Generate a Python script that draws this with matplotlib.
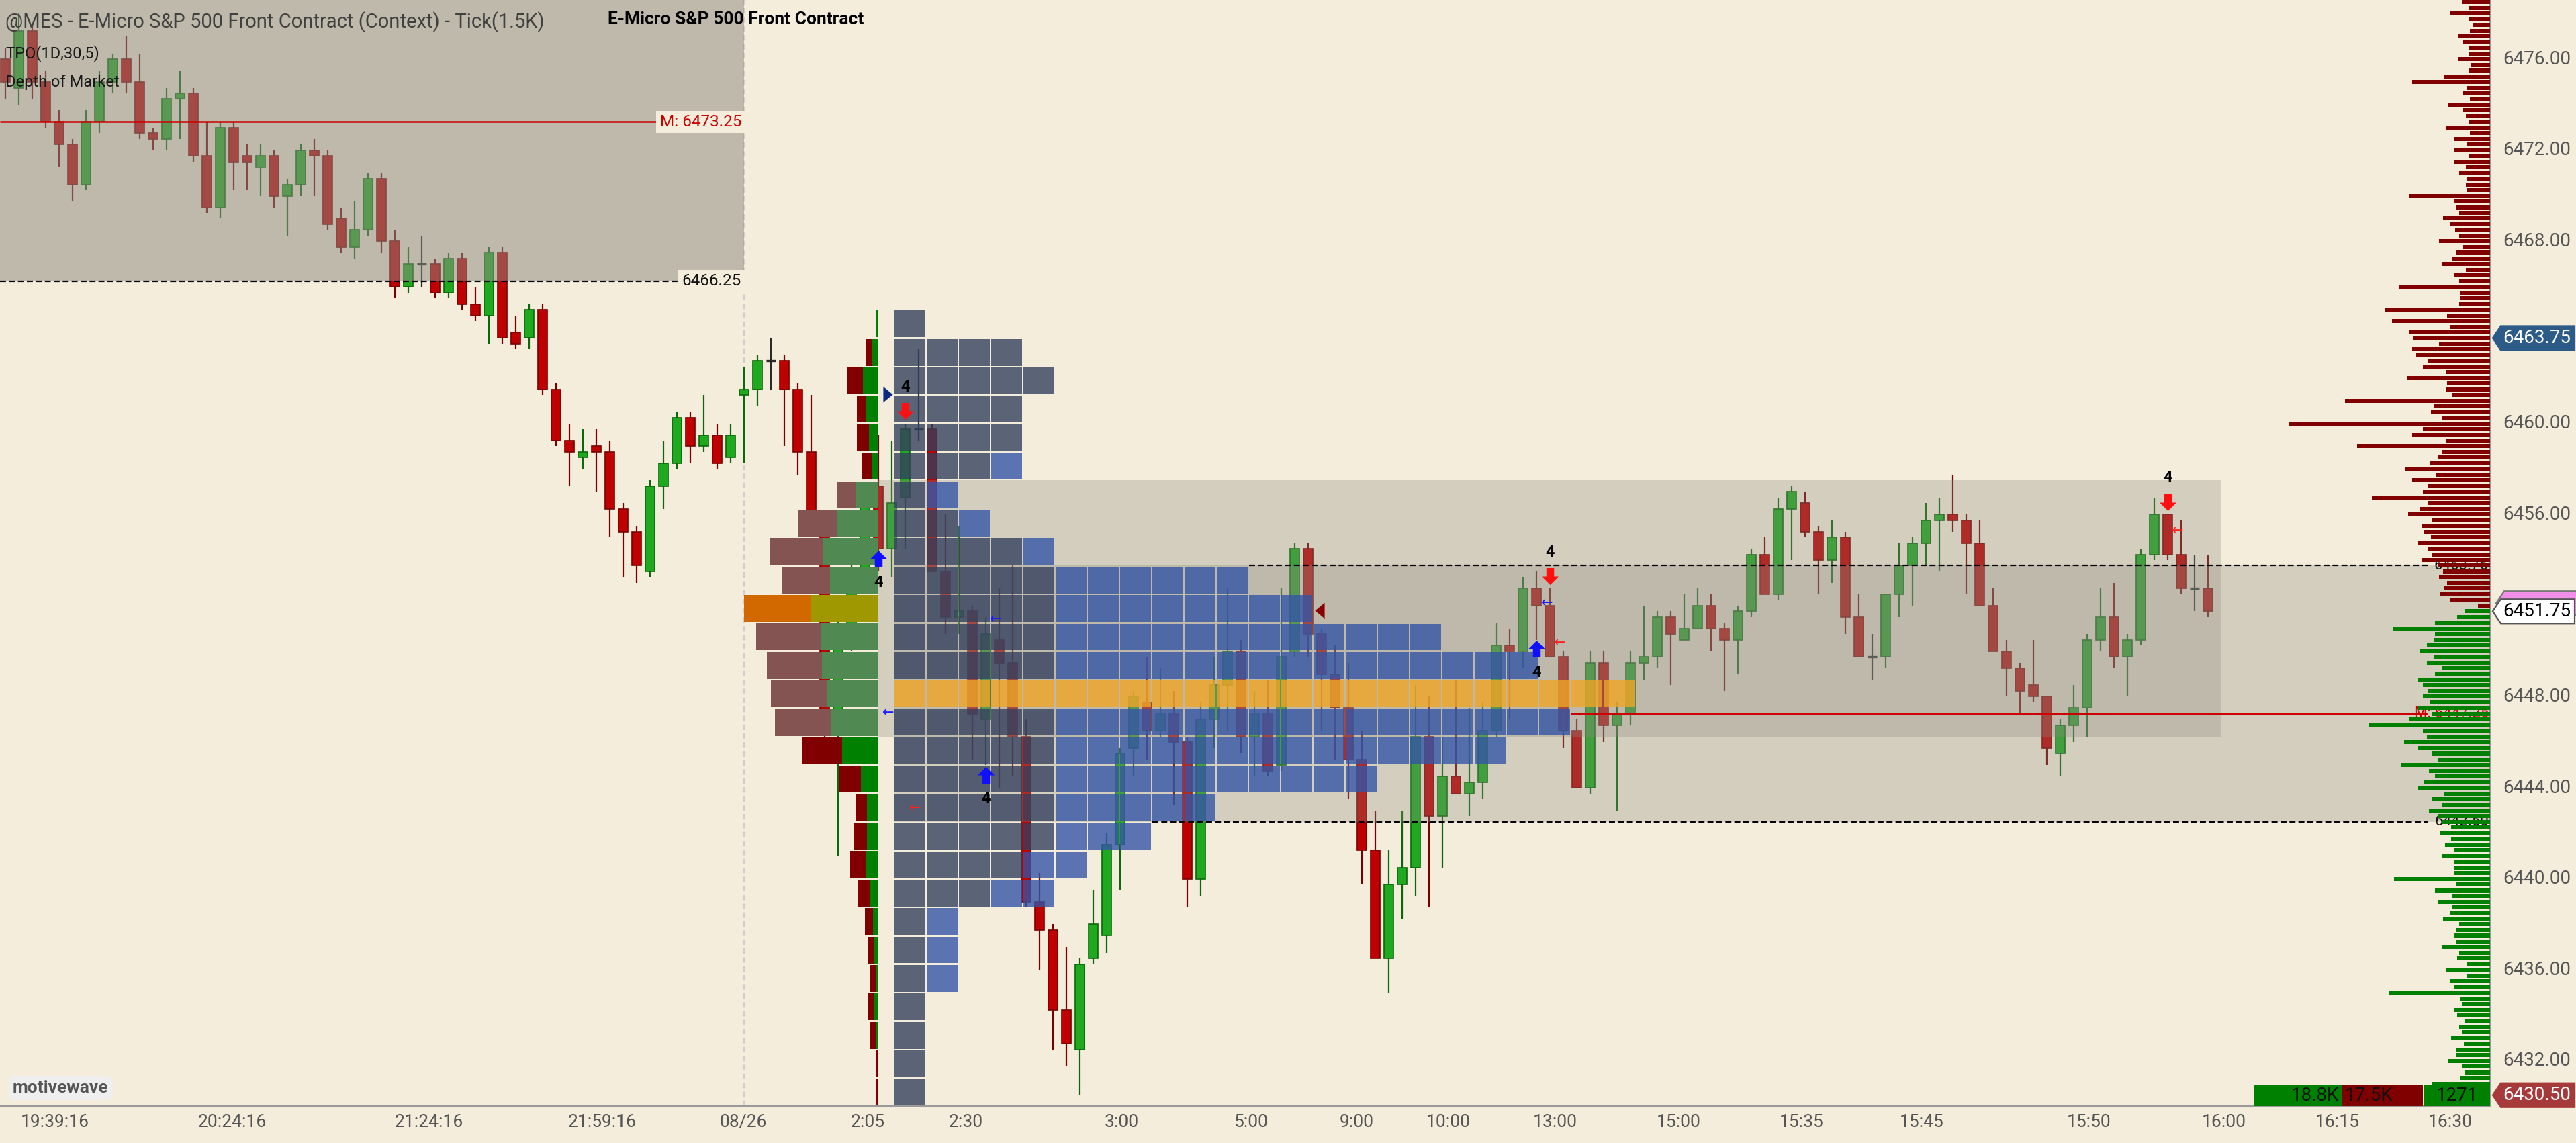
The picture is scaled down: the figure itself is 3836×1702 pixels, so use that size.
import numpy as np
import matplotlib
matplotlib.use("Agg")
import matplotlib.pyplot as plt
from matplotlib.patches import Rectangle, Polygon
from matplotlib.path import Path
from matplotlib.transforms import blended_transform_factory

# ---------------- data ----------------
# 1.5K tick candles
opens = [6476.0, 6474.75, 6477.25, 6475.0, 6473.25, 6472.25, 6470.5, 6473.25, 6475.0, 6476.0,
         6475.0, 6472.75, 6472.5, 6474.25, 6474.5, 6471.75, 6469.5, 6473.0, 6471.75, 6471.25,
         6471.75, 6470.0, 6470.5, 6472.0, 6471.75, 6469.0, 6467.75, 6468.5, 6470.75, 6468.0,
         6466.0, 6467.0, 6467.0, 6465.75, 6467.25, 6465.25, 6464.75, 6467.5, 6464.0, 6463.75,
         6465.0, 6461.5, 6459.25, 6458.5, 6459.0, 6458.75, 6456.25, 6455.25, 6453.5, 6457.25,
         6458.25, 6460.25, 6459.0, 6459.5, 6458.5, 6461.25, 6461.5, 6462.75, 6462.75, 6461.5,
         6458.75, 6455.5, 6446.5, 6451.0, 6453.5, 6457.25, 6454.5, 6456.75, 6459.75, 6459.75,
         6453.5, 6451.5, 6451.75, 6447.0, 6450.5, 6449.5, 6446.25, 6439.0, 6437.75, 6434.25,
         6432.5, 6436.5, 6437.5, 6441.5, 6445.75, 6447.75, 6446.5, 6447.25, 6446.0, 6440.0,
         6447.0, 6448.5, 6450.0, 6446.25, 6447.25, 6445.0, 6450.0, 6454.5, 6450.75, 6449.0,
         6447.5, 6445.25, 6441.25, 6436.5, 6439.75, 6440.5, 6446.25, 6442.75, 6444.5, 6443.75,
         6444.25, 6446.5, 6450.25, 6450.0, 6452.75, 6452.0, 6449.75, 6446.5, 6444.0, 6449.5,
         6446.75, 6447.25, 6449.5, 6449.75, 6451.5, 6450.5, 6451.0, 6452.0, 6451.0, 6450.5,
         6451.75, 6454.25, 6452.5, 6456.25, 6456.5, 6455.25, 6454.0, 6455.0, 6451.5, 6449.75,
         6449.75, 6452.5, 6453.75, 6454.75, 6455.75, 6456.0, 6455.75, 6454.75, 6452.0, 6450.0,
         6449.25, 6448.5, 6448.0, 6445.5, 6446.75, 6447.5, 6450.5, 6451.5, 6449.75, 6450.5,
         6454.25, 6456.0, 6454.25, 6452.75, 6452.75]
highs = [6476.5, 6478.0, 6477.5, 6475.5, 6473.75, 6472.5, 6473.75, 6475.5, 6476.25, 6477.0,
         6476.25, 6473.0, 6474.75, 6475.5, 6474.75, 6473.25, 6473.25, 6473.25, 6472.25, 6472.25,
         6472.0, 6470.75, 6472.25, 6472.5, 6472.0, 6469.5, 6469.75, 6471.0, 6471.0, 6468.5,
         6467.75, 6468.25, 6467.25, 6467.5, 6467.5, 6466.0, 6467.75, 6467.75, 6464.75, 6465.25,
         6465.25, 6461.75, 6460.0, 6459.75, 6459.75, 6459.25, 6456.5, 6455.5, 6457.5, 6459.25,
         6460.5, 6460.5, 6461.25, 6460.0, 6460.0, 6462.5, 6463.0, 6463.75, 6463.0, 6461.75,
         6461.25, 6456.0, 6451.5, 6454.0, 6457.0, 6459.5, 6459.25, 6460.0, 6463.25, 6460.0,
         6456.0, 6455.5, 6452.0, 6451.5, 6452.75, 6453.75, 6447.0, 6440.25, 6438.0, 6437.0,
         6436.5, 6439.5, 6442.0, 6445.75, 6448.25, 6449.75, 6449.25, 6448.25, 6446.25, 6447.75,
         6449.75, 6452.75, 6450.5, 6448.25, 6448.75, 6452.75, 6454.75, 6454.75, 6451.0, 6450.25,
         6449.5, 6446.5, 6443.0, 6441.25, 6443.0, 6448.5, 6448.0, 6446.25, 6448.75, 6447.5,
         6447.75, 6451.25, 6451.0, 6453.25, 6453.5, 6452.75, 6450.0, 6447.0, 6450.0, 6450.0,
         6447.75, 6450.0, 6452.0, 6451.75, 6451.75, 6452.5, 6452.75, 6452.5, 6451.25, 6452.0,
         6454.5, 6455.0, 6456.75, 6457.25, 6457.0, 6455.5, 6455.75, 6455.25, 6452.5, 6450.75,
         6452.5, 6454.75, 6455.0, 6456.5, 6456.75, 6457.75, 6456.0, 6455.75, 6452.75, 6450.5,
         6449.5, 6450.5, 6448.0, 6447.0, 6448.5, 6450.75, 6452.75, 6453.0, 6450.75, 6454.5,
         6456.75, 6456.0, 6455.75, 6454.25, 6454.25]
lows = [6474.25, 6474.0, 6474.25, 6473.0, 6471.25, 6469.75, 6470.25, 6472.75, 6474.5, 6474.5,
        6472.5, 6472.0, 6472.0, 6472.5, 6471.5, 6469.25, 6469.0, 6470.25, 6470.25, 6470.0,
        6469.5, 6468.25, 6470.0, 6470.0, 6468.5, 6467.5, 6467.25, 6468.25, 6467.5, 6465.5,
        6465.75, 6466.0, 6465.5, 6465.5, 6465.0, 6464.5, 6463.5, 6463.5, 6463.25, 6463.25,
        6461.25, 6459.0, 6457.25, 6458.0, 6457.0, 6455.0, 6453.25, 6453.0, 6453.25, 6456.25,
        6458.0, 6458.25, 6458.75, 6458.0, 6458.25, 6458.25, 6460.75, 6461.5, 6459.0, 6457.75,
        6455.0, 6445.75, 6441.0, 6450.0, 6452.5, 6453.5, 6453.25, 6454.5, 6459.25, 6453.5,
        6450.75, 6450.75, 6445.25, 6445.0, 6444.0, 6444.5, 6438.75, 6436.0, 6432.5, 6431.75,
        6430.5, 6436.25, 6436.75, 6439.5, 6444.5, 6445.25, 6446.25, 6443.25, 6438.75, 6439.25,
        6445.75, 6446.5, 6445.5, 6444.5, 6444.5, 6444.75, 6449.75, 6449.75, 6446.5, 6445.25,
        6443.5, 6439.75, 6436.5, 6435.0, 6438.25, 6439.25, 6438.75, 6440.5, 6443.75, 6442.75,
        6443.5, 6446.25, 6447.0, 6449.25, 6450.5, 6449.75, 6445.75, 6444.0, 6443.75, 6446.0,
        6443.0, 6446.75, 6448.75, 6449.25, 6448.5, 6450.5, 6451.0, 6450.0, 6448.25, 6449.0,
        6451.5, 6452.5, 6452.25, 6454.0, 6455.0, 6452.5, 6453.0, 6450.75, 6449.75, 6448.75,
        6449.25, 6451.5, 6452.0, 6453.75, 6453.5, 6455.25, 6452.5, 6452.0, 6450.0, 6448.0,
        6447.25, 6447.75, 6445.0, 6444.5, 6446.0, 6446.25, 6450.0, 6449.25, 6448.0, 6450.25,
        6454.0, 6454.0, 6452.5, 6451.75, 6451.5]
closes = [6475.0, 6477.25, 6475.0, 6473.25, 6472.25, 6470.5, 6473.25, 6475.0, 6476.0, 6475.0,
          6472.75, 6472.5, 6474.25, 6474.5, 6471.75, 6469.5, 6473.0, 6471.5, 6471.5, 6471.75,
          6470.0, 6470.5, 6472.0, 6471.75, 6468.75, 6467.75, 6468.5, 6470.75, 6468.0, 6466.0,
          6467.0, 6467.0, 6465.75, 6467.25, 6465.25, 6464.75, 6467.5, 6463.75, 6463.5, 6465.0,
          6461.5, 6459.25, 6458.75, 6458.75, 6458.75, 6456.25, 6455.25, 6453.75, 6457.25, 6458.25,
          6460.25, 6459.0, 6459.5, 6458.25, 6459.5, 6461.5, 6462.75, 6462.75, 6461.5, 6458.75,
          6455.5, 6446.5, 6451.0, 6453.5, 6456.5, 6454.5, 6456.5, 6459.75, 6459.75, 6453.5,
          6451.5, 6451.75, 6447.25, 6450.75, 6449.5, 6446.25, 6439.0, 6437.75, 6434.25, 6432.75,
          6436.25, 6438.0, 6441.5, 6445.5, 6448.0, 6446.5, 6447.25, 6446.0, 6440.0, 6447.0,
          6448.5, 6450.0, 6446.25, 6447.25, 6444.75, 6449.75, 6454.5, 6450.75, 6449.0, 6447.5,
          6445.25, 6441.25, 6436.5, 6439.75, 6440.5, 6446.25, 6442.75, 6444.5, 6443.75, 6444.25,
          6446.5, 6450.25, 6450.0, 6452.75, 6452.0, 6449.75, 6446.5, 6444.0, 6449.5, 6446.75,
          6447.25, 6449.5, 6449.75, 6451.5, 6450.75, 6451.0, 6452.0, 6451.0, 6450.5, 6451.75,
          6454.25, 6452.5, 6456.25, 6457.0, 6455.25, 6454.0, 6455.0, 6451.5, 6449.75, 6449.75,
          6452.5, 6453.75, 6454.75, 6455.75, 6456.0, 6455.75, 6454.75, 6452.0, 6450.0, 6449.25,
          6448.25, 6448.0, 6445.75, 6446.75, 6447.5, 6450.5, 6451.5, 6449.75, 6450.5, 6454.25,
          6456.0, 6454.25, 6452.75, 6452.75, 6451.75]

tick_pos = [3.7, 16.9, 31.55, 44.45, 54.95, 64.2, 71.5, 83.1, 92.75, 100.6, 107.45,
            115.4, 124.6, 133.75, 142.7, 155.15, 165.2, 173.65, 182.05]
tick_lab = ['19:39:16', '20:24:16', '21:24:16', '21:59:16', '08/26', '2:05', '2:30',
            '3:00', '5:00', '9:00', '10:00', '13:00', '15:00', '15:35', '15:45', '15:50',
            '16:00', '16:15', '16:30']

session_bar = 55          # first bar of 08/26
prev_mid, prev_low = 6473.25, 6466.25
va_high, va_low = 6457.5, 6446.25
ib_high, ib_low = 6453.75, 6442.5
mid_line = 6447.25

# profile rows of 1.25 pts, from 6465.00 down
row_top = 6465.0
row_h = 1.25
tpo_count = [1, 4, 5, 4, 4, 4, 2, 3, 5, 11, 13, 17, 20, 23, 21, 19, 15, 10, 8, 6, 5, 2, 2, 2, 1, 1, 1, 1]
tpo_early = [1, 4, 5, 4, 4, 3, 1, 2, 4, 5, 5, 5, 5, 5, 5, 5, 5, 5, 5, 4, 3, 1, 1, 1, 1, 1, 1, 1]
vp_sell = [0, 8, 23, 14, 18, 14, 28, 58, 80, 72, 100, 96, 82, 84, 84, 60, 32, 17, 19, 24, 18, 12, 10, 8, 10, 8, 4, 4]
vp_buy = [4, 10, 23, 18, 14, 10, 34, 62, 82, 72, 100, 86, 84, 76, 70, 54, 26, 17, 17, 18, 12, 8, 6, 4, 6, 4, 0, 0]

# depth of market, one level per tick
dom_ask = [42, 32, 60,                      # 6478.50 .. 6478.00
           32, 26, 30, 48, 40, 32, 32, 48, 28, 32, 68, 116,
           34, 40, 30, 62, 40, 36, 32, 66, 30, 54, 34, 54,
           32, 54, 36, 46, 34, 36, 34, 120, 54, 50, 46, 70,
           60, 52, 46, 76, 40, 50, 56, 72, 36, 54, 46, 136,
           44, 44, 46, 156, 64, 146, 60, 120, 114, 76, 116, 110,
           92, 100, 66, 124, 64, 66, 56, 216, 84, 88, 72, 300,
           100, 116, 66, 198, 72, 78, 90, 126, 80, 116, 92, 100,
           176, 92, 104, 122, 86, 102, 98, 88, 108, 92, 86, 102,
           78, 70, 76, 64, 68, 74, 60, 18]  # .. 6452.00
dom_bid = [37, 49, 82, 145, 82, 84, 94, 105, 84, 94, 72, 82,   # 6451.75 ..
           107, 100, 93, 100, 89, 108, 86, 120, 180, 100, 94, 128,
           107, 86, 77, 133, 91, 82, 98, 108, 68, 86, 72, 91,
           77, 72, 58, 75, 58, 67, 53, 72, 53, 54, 54, 143,
           51, 82, 56, 77, 56, 60, 70, 46, 51, 54, 51, 72,
           46, 49, 35, 65, 35, 60, 54, 150, 44, 42, 53, 49,
           37, 46, 42, 58, 39, 51, 51, 63, 42, 37, 44, 86, 58]  # .. 6430.75
best_bid = 6451.75
bid_total, ask_total, delta_total = 18.8, 17.5, 1271

sig_up = [(65, 6454.05), (73, 6444.55), (114, 6450.1)]
sig_dn = [(67, 6460.55), (115, 6453.3), (161, 6456.55)]
entry_blue = [(65.75, 6447.3), (73.75, 6451.4), (114.8, 6452.1)]
entry_red = [(67.75, 6443.1), (115.75, 6450.35), (161.75, 6455.3)]
tri_right = [(65.7, 6461.3)]
tri_left = [(97.85, 6451.8)]

tags = [6463.75, 6451.75, 6430.50]

# ---------------- style ----------------
BG = '#f5eddc'
SHADE = '#8d8b81'
plt.rcParams['font.family'] = ['Roboto', 'DejaVu Sans']

W, H = 3836, 1702
AX_W, AX_H = 3708, 1647
fig = plt.figure(figsize=(W / 100, H / 100), dpi=100)
fig.patch.set_facecolor(BG)
ax = fig.add_axes([0, 1 - AX_H / H, AX_W / W, AX_H / H])
ax.set_facecolor(BG)
X0, X1 = -0.4, 185.0
Y0, Y1 = 6430.02, 6478.6
ax.set_xlim(X0, X1)
ax.set_ylim(Y0, Y1)
ax.set_xticks([])
ax.set_yticks([])
for s in ['top', 'left']:
    ax.spines[s].set_visible(False)
for s in ['bottom', 'right']:
    ax.spines[s].set_color('#9a9a9a')
    ax.spines[s].set_linewidth(2.2)
PX = 1 / 20.0                     # one pixel in bar units
PY = 1 / 33.9                     # one pixel in points

o = np.array(opens); h = np.array(highs); l = np.array(lows); c = np.array(closes)
idx = np.arange(len(o))
up, dn, dj = c > o, c < o, c == o

# session divider
ax.axvline(session_bar, color='#c8c8c8', lw=1.2, ls=(0, (5, 3)), zorder=1.5)

# candles
ax.vlines(idx[up], l[up], h[up], color='#0a6a0a', lw=1.6, zorder=2)
ax.vlines(idx[dn], l[dn], h[dn], color='#7a0000', lw=1.6, zorder=2)
ax.vlines(idx[dj], l[dj], h[dj], color='#2a2a2a', lw=1.6, zorder=2)
ax.bar(idx[up], c[up] - o[up], bottom=o[up], width=0.72, color='#1fa91f',
       edgecolor='#0a6a0a', linewidth=1.2, zorder=2.1)
ax.bar(idx[dn], o[dn] - c[dn], bottom=c[dn], width=0.72, color='#c00000',
       edgecolor='#7a0000', linewidth=1.2, zorder=2.1)
ax.hlines(c[dj], idx[dj] - 0.36, idx[dj] + 0.36, color='#2a2a2a', lw=2.4, zorder=2.1)

# shaded context areas
ax.add_patch(Rectangle((X0, prev_low), session_bar - X0, Y1 - prev_low,
                       fc=SHADE, alpha=0.53, ec='none', zorder=3))
vp_right = 65.0
tpo_left = 66.2
ax.add_patch(Rectangle((vp_right, va_low), len(opens) - vp_right, va_high - va_low,
                       fc=SHADE, alpha=0.31, ec='none', zorder=3))
ax.add_patch(Rectangle((tpo_left, ib_low), X1 - tpo_left, ib_high - ib_low,
                       fc=SHADE, alpha=0.31, ec='none', zorder=3))

# previous session lines + labels
ax.hlines(prev_mid, X0, session_bar, color='#cc0000', lw=1.8, zorder=3.5)
ax.hlines(prev_low, X0, session_bar, color='black', lw=1.6, ls=(0, (4, 2)), zorder=3.5)
ax.text(session_bar - 0.2, prev_mid, f'M: {prev_mid:.2f}', color='#cc0000', fontsize=17.5,
        ha='right', va='center', zorder=7,
        bbox=dict(boxstyle='square,pad=0.22', fc=BG, ec='none'))
ax.text(session_bar - 0.2, prev_low, f'{prev_low:.2f}', color='#111111', fontsize=17.5,
        ha='right', va='center', zorder=7,
        bbox=dict(boxstyle='square,pad=0.22', fc=BG, ec='none'))

# right-hand level lines, starting where their TPO row ends
tpo_pitch = 2.4


def row_of(price):
    return int(np.floor((row_top - price) / row_h + 1e-9))


def row_end(price):
    return tpo_left + tpo_pitch * tpo_count[row_of(price)]


line_end = 180.35
ax.hlines(ib_high, row_end(ib_high - 0.1), line_end, color='black', lw=1.6,
          ls=(0, (4, 2)), zorder=3.5)
ax.hlines(ib_low, row_end(ib_low - 0.1), line_end, color='black', lw=1.6,
          ls=(0, (4, 2)), zorder=3.5)
ax.hlines(mid_line, row_end(mid_line), line_end, color='#cc0000', lw=1.6, zorder=3.5)
for p, t, col in [(ib_high, f'{ib_high:.2f}', '#111111'),
                  (mid_line, f'M: {mid_line:.2f}', '#cc0000'),
                  (ib_low, f'{ib_low:.2f}', '#111111')]:
    ax.text(X1 - 0.1, p, t, color=col, fontsize=16, ha='right', va='center', zorder=4.8)

# volume profile (left of the TPO)
vp_sell_a = np.array(vp_sell); vp_buy_a = np.array(vp_buy)
vp_poc = int(np.argmax(vp_sell_a + vp_buy_a))
for r in range(len(vp_sell)):
    top = row_top - r * row_h
    bot = top - row_h
    in_va = bot >= va_low - 1e-9 and top <= va_high + 1e-9
    if r == vp_poc:
        cs, cb = '#d26900', '#a09800'
    elif in_va:
        cs, cb = '#845452', '#518953'
    else:
        cs, cb = '#800000', '#008000'
    bw = vp_buy_a[r] * PX
    sw = vp_sell_a[r] * PX
    y = bot + 1.2 * PY
    hh = row_h - 2.4 * PY
    ax.add_patch(Rectangle((vp_right - bw, y), bw, hh, fc=cb, ec='none', zorder=4))
    ax.add_patch(Rectangle((vp_right - bw - sw, y), sw, hh, fc=cs, ec='none', zorder=4))

# TPO grid
tpo_poc = int(np.argmax(tpo_count))
cell_w = 46 * PX
for r, n in enumerate(tpo_count):
    bot = row_top - (r + 1) * row_h
    for k in range(n):
        if r == tpo_poc:
            col = '#f0a626'
        elif k < tpo_early[r]:
            col = '#34405e'
        else:
            col = '#3455a6'
        ax.add_patch(Rectangle((tpo_left + k * tpo_pitch, bot + 1.3 * PY), cell_w,
                               row_h - 2.6 * PY, fc=col, ec='none', alpha=0.8, zorder=4.5))

# depth of market
ask_p = best_bid + 0.25 + 0.25 * np.arange(len(dom_ask))[::-1]
bid_p = best_bid - 0.25 * np.arange(len(dom_bid))
bh = 6 * PY
ax.barh(ask_p, -np.array(dom_ask) * PX, left=X1, height=bh, color='#800000', zorder=5)
ax.barh(bid_p, -np.array(dom_bid) * PX, left=X1, height=bh, color='#008000', zorder=5)

# bid / ask totals
tot_len = 252 * PX
g_len = tot_len * bid_total / (bid_total + ask_total)
bx0 = 3356 * PX - 0.4
by0, by1 = Y0, Y0 + 31 * PY
ax.add_patch(Rectangle((bx0, by0), g_len, by1 - by0, fc='#008000', ec='none', zorder=5.5, clip_on=False))
ax.add_patch(Rectangle((bx0 + g_len, by0), tot_len - g_len, by1 - by0, fc='#800000', ec='none', zorder=5.5, clip_on=False))
dx0 = bx0 + tot_len + 2 * PX
ax.add_patch(Rectangle((dx0, by0), X1 - dx0, by1 - by0, fc='#008000', ec='none', zorder=5.5, clip_on=False))
ym = (by0 + by1) / 2
ax.text(bx0 + g_len - 3 * PX, ym, f'{bid_total:.1f}K', fontsize=20, color='#111111',
        ha='right', va='center', zorder=6)
ax.text(bx0 + g_len + 5 * PX, ym, f'{ask_total:.1f}K', fontsize=20, color='#111111',
        ha='left', va='center', zorder=6)
ax.text((dx0 + X1) / 2, ym, f'{delta_total}', fontsize=20, color='#111111',
        ha='center', va='center', zorder=6)

# signal markers
ARW_UP = Path([(-0.23, -0.5), (0.23, -0.5), (0.23, 0.0), (0.5, 0.0), (0, 0.5),
               (-0.5, 0.0), (-0.23, 0.0), (-0.23, -0.5)])
ARW_DN = Path([(x, -y) for x, y in ARW_UP.vertices])
TRI_R = Path([(-0.3, 0.5), (0.3, 0.0), (-0.3, -0.5), (-0.3, 0.5)])
TRI_L = Path([(0.3, 0.5), (-0.3, 0.0), (0.3, -0.5), (0.3, 0.5)])
for (b, p) in sig_up:
    ax.plot(b, p, marker=ARW_UP, ms=18, color='#1010ff', mew=0, zorder=6)
    ax.text(b, p - 1.05, '4', fontsize=17, weight='bold', ha='center', va='center', zorder=6)
for (b, p) in sig_dn:
    ax.plot(b, p, marker=ARW_DN, ms=18, color='#ff1010', mew=0, zorder=6)
    ax.text(b, p + 1.05, '4', fontsize=17, weight='bold', ha='center', va='center', zorder=6)
for (b, p) in entry_blue:
    ax.text(b, p, '←', color='#1a1aff', fontsize=15, family='DejaVu Sans',
            ha='center', va='center', zorder=6)
for (b, p) in entry_red:
    ax.text(b, p, '←', color='#ff2020', fontsize=15, family='DejaVu Sans',
            ha='center', va='center', zorder=6)
for (b, p) in tri_right:
    ax.plot(b, p, marker=TRI_R, ms=17, color='#0b2a80', mew=0, zorder=6)
for (b, p) in tri_left:
    ax.plot(b, p, marker=TRI_L, ms=17, color='#8b0000', mew=0, zorder=6)

# price axis
tr = blended_transform_factory(ax.transAxes, ax.transData)
for p in np.arange(6432, 6477, 4):
    if min(abs(p - t) for t in tags) < 1.0:
        continue
    ax.text(3727 / AX_W, p, f'{p:.2f}', transform=tr, fontsize=20, color='#555555',
            ha='left', va='center', clip_on=False)


def tag(price, face, edge, tcol, dx=0, dy=0, text=True, z=7):
    x0, x1, x2 = (3712 + dx) / AX_W, (3724 + dx) / AX_W, (3834 + dx) / AX_W
    hh = 18 * PY
    yc = price + dy
    pts = [(x0, yc), (x1, yc + hh), (x2, yc + hh), (x2, yc - hh), (x1, yc - hh)]
    ax.add_patch(Polygon(pts, closed=True, transform=tr, fc=face, ec=edge, lw=1.6,
                         clip_on=False, zorder=z))
    if text:
        ax.text(3727 / AX_W, yc, f'{price:.2f}', transform=tr, fontsize=20, color=tcol,
                ha='left', va='center', clip_on=False, zorder=z + 0.1)


tag(tags[0], '#2c5b88', '#2c5b88', 'white')
tag(tags[1], '#f090e8', '#777777', 'black', dx=5, dy=12 * PY, text=False, z=6.8)
tag(tags[1], 'white', '#555555', 'black')
tag(tags[2], '#a63a3a', '#a63a3a', 'white')

# time axis
trx = blended_transform_factory(ax.transData, ax.transAxes)
for p, t in zip(tick_pos, tick_lab):
    ax.text(p, -24 / AX_H, t, transform=trx, fontsize=19, color='#555555',
            ha='center', va='center', clip_on=False)

# header texts
fig.text(8 / W, 1 - 32.5 / H, '@MES - E-Micro S&P 500 Front Contract (Context) - Tick(1.5K)',
         fontsize=21, color='#404040', ha='left', va='center')
fig.text(8 / W, 1 - 79.5 / H, 'TPO(1D,30,5)', fontsize=17, color='#1a1a1a', ha='left', va='center')
fig.text(8 / W, 1 - 122.5 / H, 'Depth of Market', fontsize=17, color='#1a1a1a', ha='left', va='center')
fig.text(905 / W, 1 - 29.5 / H, 'E-Micro S&P 500 Front Contract', fontsize=19, weight='bold',
         color='black', ha='left', va='center')
ax.text(90 / AX_W, 27 / AX_H, 'motivewave', transform=ax.transAxes, fontsize=19,
        weight='bold', color='#555555', ha='center', va='center', zorder=8,
        bbox=dict(boxstyle='round,pad=0.22,rounding_size=0.3', fc='#efefef', ec='none'))

fig.savefig('out.png', dpi=100, facecolor=BG)
